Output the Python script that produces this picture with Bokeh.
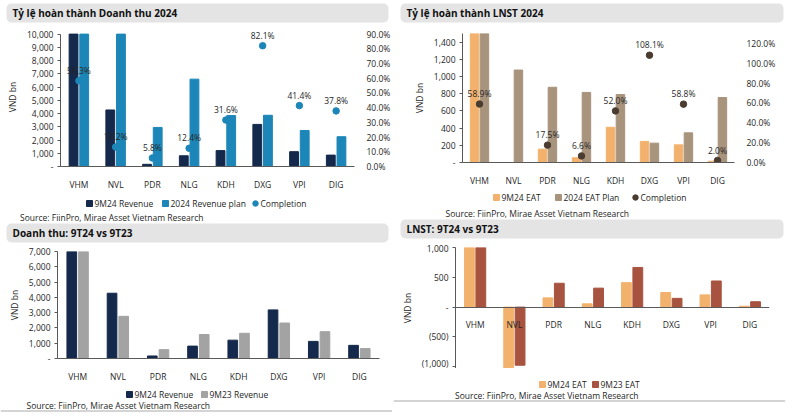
from bokeh.plotting import figure
from bokeh.models import (FactorRange, Range1d, LinearAxis, NumeralTickFormatter,
                          FixedTicker, ColumnDataSource)
from bokeh.transform import dodge
from bokeh.layouts import column, row
from bokeh.embed import file_html
from bokeh.resources import INLINE
from bokeh.core.properties import value

FONT = "Open Sans"
TXT = "#262626"
AX = "#595959"

categories = ["VHM", "NVL", "PDR", "NLG", "KDH", "DXG", "VPI", "DIG"]

# Revenue (VND bn)
rev_9m24 = [61200, 4270, 165, 810, 1200, 3180, 1120, 860]
rev_plan_2024 = [105000, 32300, 2950, 6600, 3850, 3870, 2720, 2250]
rev_completion = [0.583, 0.132, 0.058, 0.124, 0.316, 0.821, 0.414, 0.378]
rev_9m23 = [71000, 2760, 580, 1570, 1650, 2320, 1755, 650]

# EAT (VND bn)
eat_9m24 = [23000, -1020, 155, 55, 410, 245, 205, 15]
eat_plan_2024 = [39000, 1075, 875, 815, 790, 225, 345, 755]
eat_completion = [0.589, float("nan"), 0.175, 0.066, 0.520, 1.081, 0.588, 0.020]
eat_9m23 = [24000, -975, 400, 318, 665, 147, 438, 90]

REV_AXIS_MAX = 10000  # the revenue-completion axis stops at 10,000

SOURCE = "Source: FiinPro, Mirae Asset Vietnam Research"

NAVY = "#14294b"
TEAL = "#1d86b8"
TAN = "#f2b26d"
TAUPE = "#a8937c"
BROWN_DOT = "#4a3c30"
RED = "#a8533f"
GRAY = "#a3a3a3"

W = 392


def blank(h):
    p = figure(width=W, height=h, x_range=Range1d(0, W), y_range=Range1d(0, h),
               output_backend="svg", toolbar_location=None, min_border=0,
               x_axis_location=None, y_axis_location=None, frame_align=False)
    p.grid.visible = False
    p.outline_line_color = None
    return p


def title_bar(text, h, x0, x1, t0, t1):
    p = blank(h)
    p.quad(left=[x0], right=[x1], bottom=[h - t1], top=[h - t0],
           fill_color="#e4e4e4", line_color=None, border_radius=5)
    p.text(x=[x0 + 6], y=[h - (t0 + t1) / 2], text=[text], text_font=value(FONT),
           text_font_style="bold", text_font_size="10px",
           text_baseline="middle", text_color="#111111")
    return p


def legend_fig(h, entries, ly, sx, sy, sep=None):
    p = blank(h)
    for gx, label, kind, color in entries:
        p.scatter(x=[gx + 3], y=[ly], marker="square" if kind == "bar" else "circle",
                  size=6 if kind == "bar" else 5.5, color=color)
        p.text(x=[gx + 8], y=[ly], text=[label], text_font=value(FONT),
               text_font_size="8.5px", text_baseline="middle", text_color=TXT)
    p.text(x=[sx], y=[sy], text=[SOURCE], text_font=value(FONT),
           text_font_size="8.5px", text_baseline="middle", text_color=TXT)
    if sep is not None:
        p.segment(x0=[0], y0=[sep], x1=[W], y1=[sep], line_color="#d4d4d4", line_width=2)
    return p


def chart(yr, left, top, fw, fh, bottom):
    p = figure(frame_width=fw, frame_height=fh, x_range=FactorRange(*categories), y_range=yr,
               output_backend="svg", toolbar_location=None, frame_align=False,
               min_border_left=left, min_border_top=top,
               min_border_right=W - left - fw, min_border_bottom=bottom)
    p.grid.visible = False
    p.outline_line_color = None
    for ax in p.yaxis:
        ax.axis_label = "VND bn"
        ax.axis_label_text_font = FONT
        ax.axis_label_text_font_style = "normal"
        ax.axis_label_text_font_size = "8.5px"
        ax.axis_label_text_color = TXT
        ax.axis_label_standoff = 6
        ax.major_label_text_font = FONT
        ax.major_label_text_font_size = "8.5px"
        ax.major_label_text_color = TXT
        ax.axis_line_color = AX
        ax.major_tick_line_color = AX
        ax.major_tick_out = 3
        ax.major_tick_in = 0
        ax.minor_tick_line_color = None
        ax.major_label_standoff = 4
    for ax in p.xaxis:
        ax.major_label_text_font = FONT
        ax.major_label_text_font_size = "8.5px"
        ax.major_label_text_color = TXT
        ax.axis_line_color = AX
        ax.major_tick_line_color = None
        ax.major_label_standoff = 6
    return p


def pct_axis(p, rng, ticks, bounds="auto"):
    p.extra_y_ranges = {"pct": rng}
    ax = LinearAxis(y_range_name="pct", ticker=FixedTicker(ticks=ticks),
                    formatter=NumeralTickFormatter(format="0.0%"), bounds=bounds)
    ax.axis_line_color = None
    ax.major_tick_line_color = None
    ax.minor_tick_line_color = None
    ax.major_label_text_font = FONT
    ax.major_label_text_font_size = "8.5px"
    ax.major_label_text_color = TXT
    ax.major_label_standoff = 6
    p.add_layout(ax, "right")


def add_pct_labels(p, src):
    p.text(x="cat", y="c", text="lab", y_range_name="pct", source=src, y_offset=-5,
           text_align="center", text_baseline="bottom", text_font=value(FONT),
           text_font_size="8.5px", text_color=TXT)


def labels(vals):
    return ["" if v != v else f"{v * 100:.1f}%" for v in vals]


# ---------- Top-left: revenue completion ----------
src1 = ColumnDataSource(dict(cat=categories,
                             a=[min(v, REV_AXIS_MAX) for v in rev_9m24],
                             b=[min(v, REV_AXIS_MAX) for v in rev_plan_2024],
                             c=rev_completion, lab=labels(rev_completion)))
p1 = chart(Range1d(0, 10500), 60, 3, 294, 139, 20)
p1.yaxis.ticker = FixedTicker(ticks=list(range(0, 10001, 1000)))
p1.yaxis.formatter = NumeralTickFormatter(format="0,0")
p1.yaxis.major_label_overrides = {0: "-"}
p1.yaxis.bounds = (0, REV_AXIS_MAX)
pct_axis(p1, Range1d(0, 0.945), [i / 10 for i in range(10)], (0, 0.9))
p1.vbar(x=dodge("cat", -0.145, range=p1.x_range), top="a", width=0.24,
        source=src1, color=NAVY)
p1.vbar(x=dodge("cat", 0.145, range=p1.x_range), top="b", width=0.24,
        source=src1, color=TEAL)
p1.scatter(x="cat", y="c", y_range_name="pct", size=6.5, color=TEAL, source=src1)
add_pct_labels(p1, src1)
l1 = legend_fig(30, [(86, "9M24 Revenue", "bar", NAVY),
                     (162, "2024 Revenue plan", "bar", TEAL),
                     (252, "Completion", "dot", TEAL)], 19, 19.5, 5)

# ---------- Top-right: EAT completion ----------
src2 = ColumnDataSource(dict(cat=categories, a=eat_9m24, b=eat_plan_2024,
                             c=eat_completion, lab=labels(eat_completion)))
p2 = chart(Range1d(0, 1500), 69, 9, 272, 129, 24)
p2.yaxis.ticker = FixedTicker(ticks=list(range(0, 1401, 200)))
p2.yaxis.formatter = NumeralTickFormatter(format="0,0")
p2.yaxis.major_label_overrides = {0: "-"}
pct_axis(p2, Range1d(0, 1.3), [i / 5 for i in range(7)])
p2.vbar(x=dodge("cat", -0.145, range=p2.x_range), top="a", width=0.25,
        source=src2, color=TAN)
p2.vbar(x=dodge("cat", 0.145, range=p2.x_range), top="b", width=0.25,
        source=src2, color=TAUPE)
p2.scatter(x="cat", y="c", y_range_name="pct", size=6.5, color=BROWN_DOT, source=src2)
add_pct_labels(p2, src2)
l2 = legend_fig(30, [(100, "9M24 EAT", "bar", TAN),
                     (162, "2024 EAT Plan", "bar", TAUPE),
                     (239, "Completion", "dot", BROWN_DOT)], 21, 52, 5)

# ---------- Bottom-left: revenue 9M24 vs 9M23 ----------
src3 = ColumnDataSource(dict(cat=categories, a=rev_9m24, b=rev_9m23))
p3 = chart(Range1d(0, 7000), 57, 5, 322, 107, 20)
p3.yaxis.ticker = FixedTicker(ticks=list(range(0, 7001, 1000)))
p3.yaxis.formatter = NumeralTickFormatter(format="0,0")
p3.yaxis.major_label_overrides = {0: "-"}
p3.vbar(x=dodge("cat", -0.145, range=p3.x_range), top="a", width=0.24,
        source=src3, color=NAVY)
p3.vbar(x=dodge("cat", 0.145, range=p3.x_range), top="b", width=0.24,
        source=src3, color=GRAY)
l3 = legend_fig(28, [(126, "9M24 Revenue", "bar", NAVY),
                     (201, "9M23 Revenue", "bar", GRAY)], 18, 26, 7, sep=1.5)

# ---------- Bottom-right: EAT 9M24 vs 9M23 ----------
src4 = ColumnDataSource(dict(cat=categories, a=eat_9m24, b=eat_9m23))
p4 = chart(Range1d(-1030, 1000), 62, 5, 314, 121, 0)
p4.yaxis.ticker = FixedTicker(ticks=[-1000, -500, 0, 500, 1000])
p4.yaxis.formatter = NumeralTickFormatter(format="(0,0)")
p4.yaxis.major_label_overrides = {0: "-"}
p4.xaxis.fixed_location = 0
p4.vbar(x=dodge("cat", -0.145, range=p4.x_range), top="a", width=0.25,
        source=src4, color=TAN)
p4.vbar(x=dodge("cat", 0.145, range=p4.x_range), top="b", width=0.25,
        source=src4, color=RED)
l4 = legend_fig(34, [(146, "9M24 EAT", "bar", TAN),
                     (199, "9M23 EAT", "bar", RED)], 18, 61.5, 7, sep=1.5)

left = column(title_bar("Tỷ lệ hoàn thành Doanh thu 2024", 24, 6, 388, 3, 22), p1, l1,
              title_bar("Doanh thu: 9T24 vs 9T23", 24, 6, 388, 1, 20), p3, l3, spacing=0)
right = column(title_bar("Tỷ lệ hoàn thành LNST 2024", 24, 7, 390, 3, 22), p2, l2,
               title_bar("LNST: 9T24 vs 9T23", 24, 7, 390, 1, 20), p4, l4, spacing=0)
layout = row(left, right, spacing=0)

open("out.html", "w").write(file_html(layout, INLINE))
